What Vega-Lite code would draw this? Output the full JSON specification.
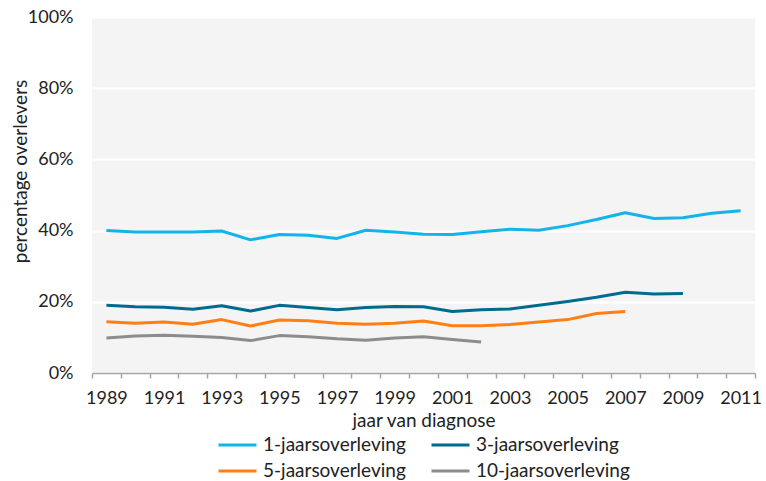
{
  "$schema": "https://vega.github.io/schema/vega-lite/v6.json",
  "width": 663,
  "height": 356,
  "autosize": "none",
  "padding": {"left": 92, "top": 17, "right": 11, "bottom": 108},
  "background": "white",
  "config": {
    "view": {"fill": "#f4f4f4", "stroke": null},
    "font": "Lato",
    "axis": {"labelFont": "Lato", "titleFont": "Lato", "labelColor": "#222", "titleColor": "#222", "labelFontSize": 18, "titleFontSize": 19, "titleFontWeight": "normal"},
    "legend": {"labelFont": "Lato", "labelFontSize": 19, "labelColor": "#222"}
  },
  "data": {
    "values": [
      {"jaar": 1989, "reeks": "1-jaarsoverleving", "pct": 40.0},
      {"jaar": 1990, "reeks": "1-jaarsoverleving", "pct": 39.6},
      {"jaar": 1991, "reeks": "1-jaarsoverleving", "pct": 39.6},
      {"jaar": 1992, "reeks": "1-jaarsoverleving", "pct": 39.6},
      {"jaar": 1993, "reeks": "1-jaarsoverleving", "pct": 39.9},
      {"jaar": 1994, "reeks": "1-jaarsoverleving", "pct": 37.4},
      {"jaar": 1995, "reeks": "1-jaarsoverleving", "pct": 38.9},
      {"jaar": 1996, "reeks": "1-jaarsoverleving", "pct": 38.7},
      {"jaar": 1997, "reeks": "1-jaarsoverleving", "pct": 37.8},
      {"jaar": 1998, "reeks": "1-jaarsoverleving", "pct": 40.1},
      {"jaar": 1999, "reeks": "1-jaarsoverleving", "pct": 39.6},
      {"jaar": 2000, "reeks": "1-jaarsoverleving", "pct": 39.0},
      {"jaar": 2001, "reeks": "1-jaarsoverleving", "pct": 38.9},
      {"jaar": 2002, "reeks": "1-jaarsoverleving", "pct": 39.7},
      {"jaar": 2003, "reeks": "1-jaarsoverleving", "pct": 40.4},
      {"jaar": 2004, "reeks": "1-jaarsoverleving", "pct": 40.1},
      {"jaar": 2005, "reeks": "1-jaarsoverleving", "pct": 41.4},
      {"jaar": 2006, "reeks": "1-jaarsoverleving", "pct": 43.1},
      {"jaar": 2007, "reeks": "1-jaarsoverleving", "pct": 45.0},
      {"jaar": 2008, "reeks": "1-jaarsoverleving", "pct": 43.4},
      {"jaar": 2009, "reeks": "1-jaarsoverleving", "pct": 43.6},
      {"jaar": 2010, "reeks": "1-jaarsoverleving", "pct": 44.9},
      {"jaar": 2011, "reeks": "1-jaarsoverleving", "pct": 45.6},
      {"jaar": 1989, "reeks": "3-jaarsoverleving", "pct": 19.0},
      {"jaar": 1990, "reeks": "3-jaarsoverleving", "pct": 18.6},
      {"jaar": 1991, "reeks": "3-jaarsoverleving", "pct": 18.5},
      {"jaar": 1992, "reeks": "3-jaarsoverleving", "pct": 17.9},
      {"jaar": 1993, "reeks": "3-jaarsoverleving", "pct": 18.9},
      {"jaar": 1994, "reeks": "3-jaarsoverleving", "pct": 17.4},
      {"jaar": 1995, "reeks": "3-jaarsoverleving", "pct": 19.0},
      {"jaar": 1996, "reeks": "3-jaarsoverleving", "pct": 18.4},
      {"jaar": 1997, "reeks": "3-jaarsoverleving", "pct": 17.8},
      {"jaar": 1998, "reeks": "3-jaarsoverleving", "pct": 18.4},
      {"jaar": 1999, "reeks": "3-jaarsoverleving", "pct": 18.7},
      {"jaar": 2000, "reeks": "3-jaarsoverleving", "pct": 18.6},
      {"jaar": 2001, "reeks": "3-jaarsoverleving", "pct": 17.3},
      {"jaar": 2002, "reeks": "3-jaarsoverleving", "pct": 17.8},
      {"jaar": 2003, "reeks": "3-jaarsoverleving", "pct": 18.0},
      {"jaar": 2004, "reeks": "3-jaarsoverleving", "pct": 19.0},
      {"jaar": 2005, "reeks": "3-jaarsoverleving", "pct": 20.1},
      {"jaar": 2006, "reeks": "3-jaarsoverleving", "pct": 21.3},
      {"jaar": 2007, "reeks": "3-jaarsoverleving", "pct": 22.7},
      {"jaar": 2008, "reeks": "3-jaarsoverleving", "pct": 22.2},
      {"jaar": 2009, "reeks": "3-jaarsoverleving", "pct": 22.3},
      {"jaar": 1989, "reeks": "5-jaarsoverleving", "pct": 14.4},
      {"jaar": 1990, "reeks": "5-jaarsoverleving", "pct": 14.0},
      {"jaar": 1991, "reeks": "5-jaarsoverleving", "pct": 14.3},
      {"jaar": 1992, "reeks": "5-jaarsoverleving", "pct": 13.7},
      {"jaar": 1993, "reeks": "5-jaarsoverleving", "pct": 15.0},
      {"jaar": 1994, "reeks": "5-jaarsoverleving", "pct": 13.2},
      {"jaar": 1995, "reeks": "5-jaarsoverleving", "pct": 14.9},
      {"jaar": 1996, "reeks": "5-jaarsoverleving", "pct": 14.7},
      {"jaar": 1997, "reeks": "5-jaarsoverleving", "pct": 14.0},
      {"jaar": 1998, "reeks": "5-jaarsoverleving", "pct": 13.7},
      {"jaar": 1999, "reeks": "5-jaarsoverleving", "pct": 14.0},
      {"jaar": 2000, "reeks": "5-jaarsoverleving", "pct": 14.6},
      {"jaar": 2001, "reeks": "5-jaarsoverleving", "pct": 13.3},
      {"jaar": 2002, "reeks": "5-jaarsoverleving", "pct": 13.3},
      {"jaar": 2003, "reeks": "5-jaarsoverleving", "pct": 13.6},
      {"jaar": 2004, "reeks": "5-jaarsoverleving", "pct": 14.3},
      {"jaar": 2005, "reeks": "5-jaarsoverleving", "pct": 15.0},
      {"jaar": 2006, "reeks": "5-jaarsoverleving", "pct": 16.7},
      {"jaar": 2007, "reeks": "5-jaarsoverleving", "pct": 17.3},
      {"jaar": 1989, "reeks": "10-jaarsoverleving", "pct": 9.8},
      {"jaar": 1990, "reeks": "10-jaarsoverleving", "pct": 10.4},
      {"jaar": 1991, "reeks": "10-jaarsoverleving", "pct": 10.6},
      {"jaar": 1992, "reeks": "10-jaarsoverleving", "pct": 10.3},
      {"jaar": 1993, "reeks": "10-jaarsoverleving", "pct": 10.0},
      {"jaar": 1994, "reeks": "10-jaarsoverleving", "pct": 9.1},
      {"jaar": 1995, "reeks": "10-jaarsoverleving", "pct": 10.5},
      {"jaar": 1996, "reeks": "10-jaarsoverleving", "pct": 10.2},
      {"jaar": 1997, "reeks": "10-jaarsoverleving", "pct": 9.6},
      {"jaar": 1998, "reeks": "10-jaarsoverleving", "pct": 9.2},
      {"jaar": 1999, "reeks": "10-jaarsoverleving", "pct": 9.8},
      {"jaar": 2000, "reeks": "10-jaarsoverleving", "pct": 10.2},
      {"jaar": 2001, "reeks": "10-jaarsoverleving", "pct": 9.4},
      {"jaar": 2002, "reeks": "10-jaarsoverleving", "pct": 8.7}
    ]
  },
  "mark": {"type": "line", "strokeWidth": 3, "strokeJoin": "round"},
  "encoding": {
    "x": {
      "field": "jaar",
      "type": "ordinal",
      "scale": {"paddingInner": 0, "paddingOuter": 0},
      "axis": {
        "title": "jaar van diagnose",
        "labelAngle": 0,
        "labelExpr": "datum.value % 2 == 1 ? datum.label : ''",
        "tickBand": "extent",
        "tickColor": "#a6a6a6",
        "tickSize": 5,
        "tickWidth": 1.5,
        "domainColor": "#a6a6a6",
        "domainWidth": 1.5,
        "labelPadding": 11,
        "titlePadding": 4,
        "grid": false
      }
    },
    "y": {
      "field": "pct",
      "type": "quantitative",
      "scale": {"domain": [0, 100]},
      "axis": {
        "title": "percentage overlevers",
        "values": [0, 20, 40, 60, 80, 100],
        "labelExpr": "datum.value + '%'",
        "domain": false,
        "ticks": false,
        "grid": true,
        "gridColor": "white",
        "gridWidth": 2,
        "labelPadding": 19,
        "titlePadding": -3,
        "titleY": 154
      }
    },
    "color": {
      "field": "reeks",
      "type": "nominal",
      "sort": ["1-jaarsoverleving", "3-jaarsoverleving", "5-jaarsoverleving", "10-jaarsoverleving"],
      "scale": {
        "domain": ["1-jaarsoverleving", "3-jaarsoverleving", "5-jaarsoverleving", "10-jaarsoverleving"],
        "range": ["#12b4ea", "#006b8f", "#ff7f14", "#8c8c8c"]
      },
      "legend": {
        "title": null,
        "orient": "none",
        "legendX": 144,
        "legendY": 417,
        "columns": 2,
        "direction": "horizontal",
        "symbolType": "M-3,0H1",
        "symbolSize": 361,
        "symbolStrokeWidth": 3,
        "labelOffset": 5,
        "columnPadding": 19,
        "rowPadding": 5,
        "padding": 0
      }
    }
  }
}
